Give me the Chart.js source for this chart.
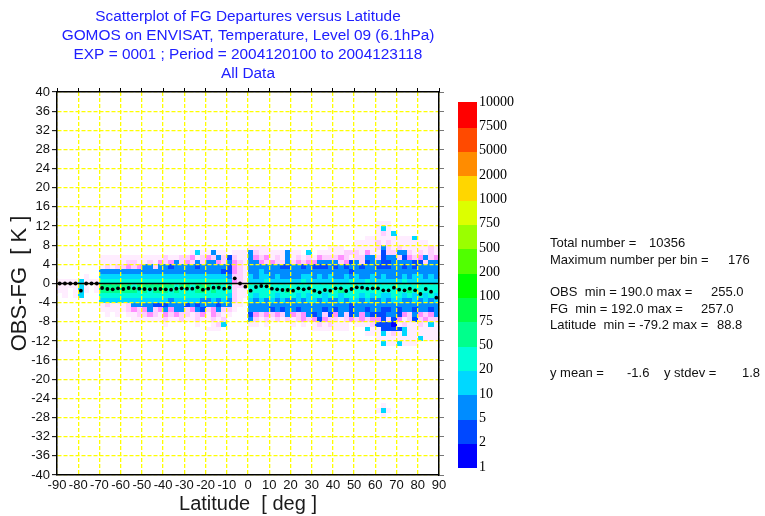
<!DOCTYPE html>
<html>
<head>
<meta charset="utf-8">
<title>FG departures versus latitude</title>
<script src="https://cdn.jsdelivr.net/npm/chart.js@4.4.1/dist/chart.umd.min.js"></script>
<style>
  html, body { margin: 0; padding: 0; background: #fff; }
  #wrap { width: 765px; height: 516px; position: relative; }
</style>
</head>
<body>
<div id="wrap"><canvas id="departureChart"></canvas></div>
<script>
const titleLines = [
  "Scatterplot of FG Departures versus Latitude",
  "GOMOS on ENVISAT, Temperature, Level 09 (6.1hPa)",
  "EXP = 0001 ; Period = 2004120100 to 2004123118",
  "All Data",
];

// colour scale: counts per bin
const colourLevels = [1, 2, 5, 10, 20, 50, 75, 100, 200, 500, 750, 1000, 2000, 5000, 7500, 10000];
const levelColours = [
  "#0000ff", "#0048ff", "#008cff", "#00d8ff", "#00ffd8", "#00ff8c", "#00ff48",
  "#00ff00", "#50ff00", "#9aff00", "#dcff00", "#ffd600", "#ff8c00", "#ff4a00", "#ff0000",
];

// bin counts coded by character ("." empty, pinks are sub-unit weights)
const binCounts = { ",": 0.12, "-": 0.35, "+": 0.8, "1": 1, "2": 3, "3": 7, "4": 15, "5": 30, "6": 60, "7": 85, "8": 150 };

// 2.5 deg latitude bins, 1 K departure bins; first row is 12..13 K
const binWidth = 2.5;
const binTop = 12;
const binRows = [
  ".... .... .... .... .... .... .... .... .... .... .... .... .... .... .... ,,,. .... ....",
  ".... .... .... .... .... .... .... .... .... .... .... .... .... .... .... ,4,. .... ....",
  ".... .... .... .... .... .... .... .... .... .... .... .... .... .... .... ,-,4 .... ....",
  ".... .... .... .... .... .... .... .... .... .... .... .... .... .... ..,, ,,,, ,,,4 ....",
  ".... .... .... .... .... .... .... .... .... .... .... .... .... .... ,,,, -,-, ,,,, ,,..",
  ".... .... .... .... .... .... .... .... .... ,,,, .... .... ..., ,,.. ,,,, -3-, -,,, ,,-,",
  ".... .... .... .... .... .... .,4, ,3,, .,,, 3-,, ,,,3 ,,.4 .,,, ,,-- -,+, ,2-- 33-, -,-,",
  ".... .... ,,,, ,,,, ,,,, -,,- -+,- +-3- 2-,, 3+-+ ,-,3 ,-,- ,+-- -+-, --33 -233 -2+- +3-+",
  ".... .... ,,,, ,--, ,-,+ -+3- +-3- 33+- 3+-, 33+- +--3 -+-+ +333 3-+2 3-23 3223 3332 2-33",
  ".... .... ,-,- -+-+ 33-3 3233 3323 3333 2+-, 3333 3322 3323 2223 2323 3233 2223 3232 3333",
  ".... .... 3333 3333 3333 3333 3333 3332 2+-, 3343 3333 3333 3333 3332 3333 3333 3333 3333",
  ".... .,.. 4444 4444 4444 4444 4444 4444 3--, 4344 3433 3344 3434 3343 4334 3433 3434 4343",
  ",,,, 4,,, 5555 5555 5555 5555 5555 5555 4+-, 4445 4444 4454 4444 4445 4454 4444 4544 4444",
  ",,,, 4,., 6666 6656 6666 6656 6566 6565 5--, 5555 5555 5555 5555 5555 5555 5555 5555 5555",
  ",,., 4,., 6666 6665 6566 6565 5566 5655 5-,, 5555 5556 5555 5555 5655 5555 5555 5565 5555",
  ".,., 4... 5555 5555 5555 5555 5555 5555 4-,, 5455 5455 5454 5545 5455 5454 5445 5454 5454",
  ".... .... 4444 4444 4444 4344 4443 3434 3-,. 4343 4343 3434 4343 3434 4343 3434 4334 3434",
  ".... .... ,-,, ,-33 3322 2333 2323 3323 3,,. 3333 3333 3333 3333 3332 3333 3333 3333 3333",
  ".... .... ,,,, ,-+- +3-+ 3+33 -+32 -+3- -,.. 3333 2323 3233 3323 2332 3323 3223 2332 3323",
  ".... .... .,., .,,- -+-, +-+- -,-+ ,+-, ,... 2+-+ -+-3 +-+3 23-2 +3-2 3+32 2233 2+-3 +-+3",
  ".... .... .... ..,, ,,,, -,,- ,,-, ,-,- .... 3-,- ,-,- ,-+- +2+- -,-+ -+-+ +2-2 +,-2 -+--",
  ".... .... .... .... .... ,... ..,. .,-4 .... ,,., .... ,.,. ,-,- ,,,. ,,,- 2221 ,-,, -,4,",
  ".... .... .... .... .... .... .... ,,,. .... .... .... .... ,,,, ,,,. ..4, ,222 24,, ,,,,",
  ".... .... .... .... .... .... .... .... .... .... .... .... .... .... ..,, ,4,- ,4,, ,,,,",
  ".... .... .... .... .... .... .... .... .... .... .... .... .... .... .... ,,,, ,,,, 4,,,",
  ".... .... .... .... .... .... .... .... .... .... .... .... .... .... .... .4,, 4,,, ....",
];

// isolated bins further out: [bin west edge, departure bin, code]
const isolatedBins = [
  [62.5, -27, "4"], [60.0, -27, ","], [65.0, -27, ","], [62.5, -26, ","], [62.5, -28, ","],
];

// mean departure per latitude bin (dots)
const meanDeparture = [
  0, 0, 0, 0, -1.5, 0, 0, 0,
  -0.94, -1.15, -1.22, -1.0, -1.15, -0.94, -1.0, -1.08, -1.15, -1.22, -1.15, -1.15,
  -1.22, -1.29, -1.08, -1.0, -1.08, -1.08, -0.8, -1.29, -1.08, -0.87, -0.87, -1.08,
  -0.87, 1.08, 0, -0.66,
  -1.5, -0.73, -0.52, -0.59, -1.08, -1.22, -1.36, -1.36, -1.5, -1.0,
  -1.22, -1.0, -1.5, -1.84, -1.36, -1.5, -1.0, -1.0, -1.57, -1.15,
  -0.8, -0.87, -1.08, -1.0, -1.0, -1.43, -1.43, -0.87, -1.29, -1.43,
  -1.08, -1.43, -2.19, -1.15, -1.7, -2.96,
];
const zeroLine = [-90, 90];

const statLines = [
  { y: 243, parts: [[550, "Total number ="], [649, "10356"]] },
  { y: 260, parts: [[550, "Maximum number per bin ="], [728, "176"]] },
  { y: 292, parts: [[550, "OBS  min = 190.0 max ="], [711, "255.0"]] },
  { y: 309, parts: [[550, "FG  min = 192.0 max ="], [701, "257.0"]] },
  { y: 325, parts: [[550, "Latitude  min = -79.2 max ="], [717, "88.8"]] },
  { y: 373, parts: [[550, "y mean ="], [627, "-1.6"], [664, "y stdev ="], [742, "1.8"]] },
];

function colourFor(count) {
  if (count < 1) {
    return `rgba(255, 0, 255, ${(count * 0.55).toFixed(2)})`;
  }
  let idx = 0;
  for (let i = 0; i < levelColours.length; i++) {
    if (count >= colourLevels[i]) idx = i;
  }
  return levelColours[idx];
}

function fillBin(ctx, x, y, west, k, count) {
  const x0 = Math.round(x.getPixelForValue(west));
  const x1 = Math.round(x.getPixelForValue(west + binWidth));
  const y0 = Math.round(y.getPixelForValue(k + 1));
  const y1 = Math.round(y.getPixelForValue(k));
  ctx.fillStyle = colourFor(count);
  ctx.fillRect(x0, y0, x1 - x0, y1 - y0);
}

// histogram cells go under the grid, so draw them before the scales
const binPlugin = {
  id: "binPlugin",
  beforeDraw(chart) {
    const { ctx, chartArea, scales: { x, y } } = chart;
    ctx.save();
    ctx.fillStyle = "#fff";
    ctx.fillRect(0, 0, chart.width, chart.height);
    ctx.beginPath();
    ctx.rect(chartArea.left, chartArea.top, chartArea.width, chartArea.height);
    ctx.clip();
    binRows.forEach((row, r) => {
      const cells = row.replace(/ /g, "");
      const k = binTop - r;
      for (let i = 0; i < cells.length; i++) {
        const count = binCounts[cells[i]];
        if (count) fillBin(ctx, x, y, -90 + i * binWidth, k, count);
      }
    });
    isolatedBins.forEach(([west, k, code]) => fillBin(ctx, x, y, west, k, binCounts[code]));
    ctx.restore();
  },
};

const annotationPlugin = {
  id: "annotationPlugin",
  afterDraw(chart) {
    const { ctx, chartArea } = chart;
    ctx.save();

    // title block
    ctx.fillStyle = "#2020ff";
    ctx.font = "15.4px Arial, 'Liberation Sans', sans-serif";
    ctx.textAlign = "center";
    ctx.textBaseline = "middle";
    const cx = (chartArea.left + chartArea.right) / 2;
    titleLines.forEach((line, i) => ctx.fillText(line, cx, 17 + i * 19));

    // colour bar
    const barLeft = 458, barWidth = 19, barTop = 102, barBottom = 467;
    const step = (barBottom - barTop) / levelColours.length;
    levelColours.forEach((colour, i) => {
      ctx.fillStyle = colour;
      const yTop = barBottom - (i + 1) * step;
      ctx.fillRect(barLeft, Math.floor(yTop), barWidth, Math.ceil(step) + 1);
    });
    ctx.fillStyle = "#000";
    ctx.font = "14px 'Liberation Serif', 'Times New Roman', serif";
    ctx.textAlign = "left";
    colourLevels.forEach((level, i) => {
      ctx.fillText(String(level), barLeft + barWidth + 2, barBottom - i * step);
    });

    // statistics
    ctx.fillStyle = "#111";
    ctx.font = "13px Arial, 'Liberation Sans', sans-serif";
    statLines.forEach((line) => {
      line.parts.forEach(([px, text]) => ctx.fillText(text, px, line.y));
    });
    ctx.restore();
  },
};

const axisFont = { family: "Arial, 'Liberation Sans', sans-serif", size: 13 };
const gridYellow = "#ffff00";

new Chart(document.getElementById("departureChart"), {
  type: "scatter",
  data: {
    datasets: [
      {
        label: "Mean departure",
        data: meanDeparture.map((v, i) => ({ x: -90 + binWidth * (i + 0.5), y: v })),
        pointRadius: 1.9,
        pointBackgroundColor: "#000",
        pointBorderWidth: 0,
        showLine: false,
      },
      {
        type: "line",
        label: "Zero",
        data: zeroLine.map((v) => ({ x: v, y: 0 })),
        borderColor: "#000",
        borderWidth: 1.5,
        pointRadius: 0,
      },
    ],
  },
  options: {
    responsive: true,
    maintainAspectRatio: false,
    animation: false,
    events: [],
    layout: { padding: { top: 88, right: 321, bottom: 0, left: 0 } },
    plugins: { legend: { display: false }, tooltip: { enabled: false } },
    scales: {
      x: {
        type: "linear",
        position: "bottom",
        min: -90,
        max: 90,
        afterFit(scale) { scale.height = 41; },
        ticks: { stepSize: 10, autoSkip: false, maxRotation: 0, color: "#111", font: axisFont, padding: 3 },
        grid: { color: gridYellow, lineWidth: 1.3, drawTicks: false },
        border: { display: true, color: "#000", width: 1.5, dash: [4, 2], z: 1 },
        title: {
          display: true,
          text: "Latitude  [ deg ]",
          color: "#1a1a1a",
          font: { family: "Arial, 'Liberation Sans', sans-serif", size: 20 },
          padding: 0,
        },
      },
      x2: {
        type: "linear",
        position: "top",
        min: -90,
        max: 90,
        afterFit(scale) { scale.height = 4; },
        ticks: { stepSize: 10, display: false },
        grid: { drawOnChartArea: false, tickLength: 4, color: "#000", tickColor: "#000" },
        border: { display: true, color: "#000", width: 1.5, z: 1 },
      },
      y: {
        type: "linear",
        position: "left",
        min: -40,
        max: 40,
        afterFit(scale) { scale.width = 57; },
        ticks: { stepSize: 4, autoSkip: false, color: "#111", font: axisFont, padding: 2 },
        grid: { color: gridYellow, lineWidth: 1.3, tickLength: 5, tickColor: "#000", tickWidth: 1 },
        border: { display: true, color: "#000", width: 1.5, dash: [4, 2], z: 1 },
        title: {
          display: true,
          text: "OBS-FG  [ K ]",
          color: "#1a1a1a",
          font: { family: "Arial, 'Liberation Sans', sans-serif", size: 22 },
          padding: { top: 7, bottom: 0 },
        },
      },
      y2: {
        type: "linear",
        position: "right",
        min: -40,
        max: 40,
        afterFit(scale) { scale.width = 5; },
        ticks: { stepSize: 4, display: false },
        grid: { drawOnChartArea: false, tickLength: 5, color: "#777", tickColor: "#777" },
        border: { display: true, color: "#000", width: 1.5, z: 1 },
      },
    },
  },
  plugins: [binPlugin, annotationPlugin],
});
</script>
</body>
</html>
